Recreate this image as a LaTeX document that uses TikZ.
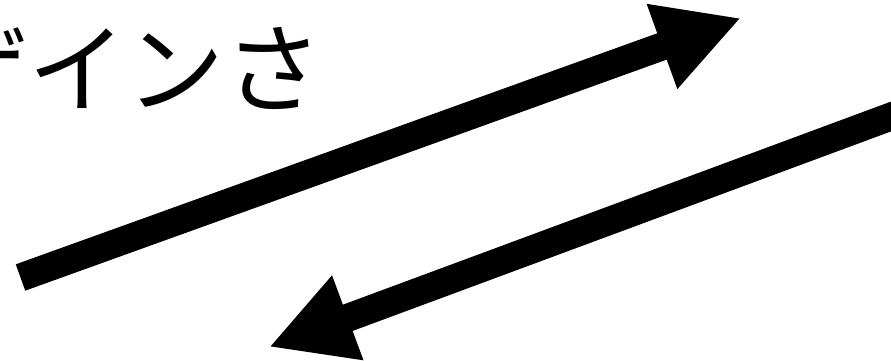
\documentclass[tikz,border=0pt]{standalone}
\usepackage{fontspec}
\newfontfamily\jpfont{Noto Sans CJK JP}
\usetikzlibrary{arrows.meta}
\begin{document}
\begin{tikzpicture}[x=1pt,y=1pt,
  bigarrow/.style={line width=28pt, -{Triangle[length=84pt,width=84pt]}},
  jptext/.style={anchor=base west, inner sep=0pt, font=\jpfont\fontsize{98}{98}\selectfont}]
\useasboundingbox (0,0) rectangle (891,360);
\clip (0,0) rectangle (891,360);
\node[jptext] (txt) at (-70,255) {ザインさ};
\coordinate (a1s) at (20.5,82.5);
\coordinate (a1e) at (741,342);
\draw[bigarrow] (a1s) -- (a1e);
\coordinate (a2s) at (920,254.25);
\coordinate (a2e) at (269,13);
\draw[bigarrow] (a2s) -- (a2e);
\end{tikzpicture}
\end{document}
